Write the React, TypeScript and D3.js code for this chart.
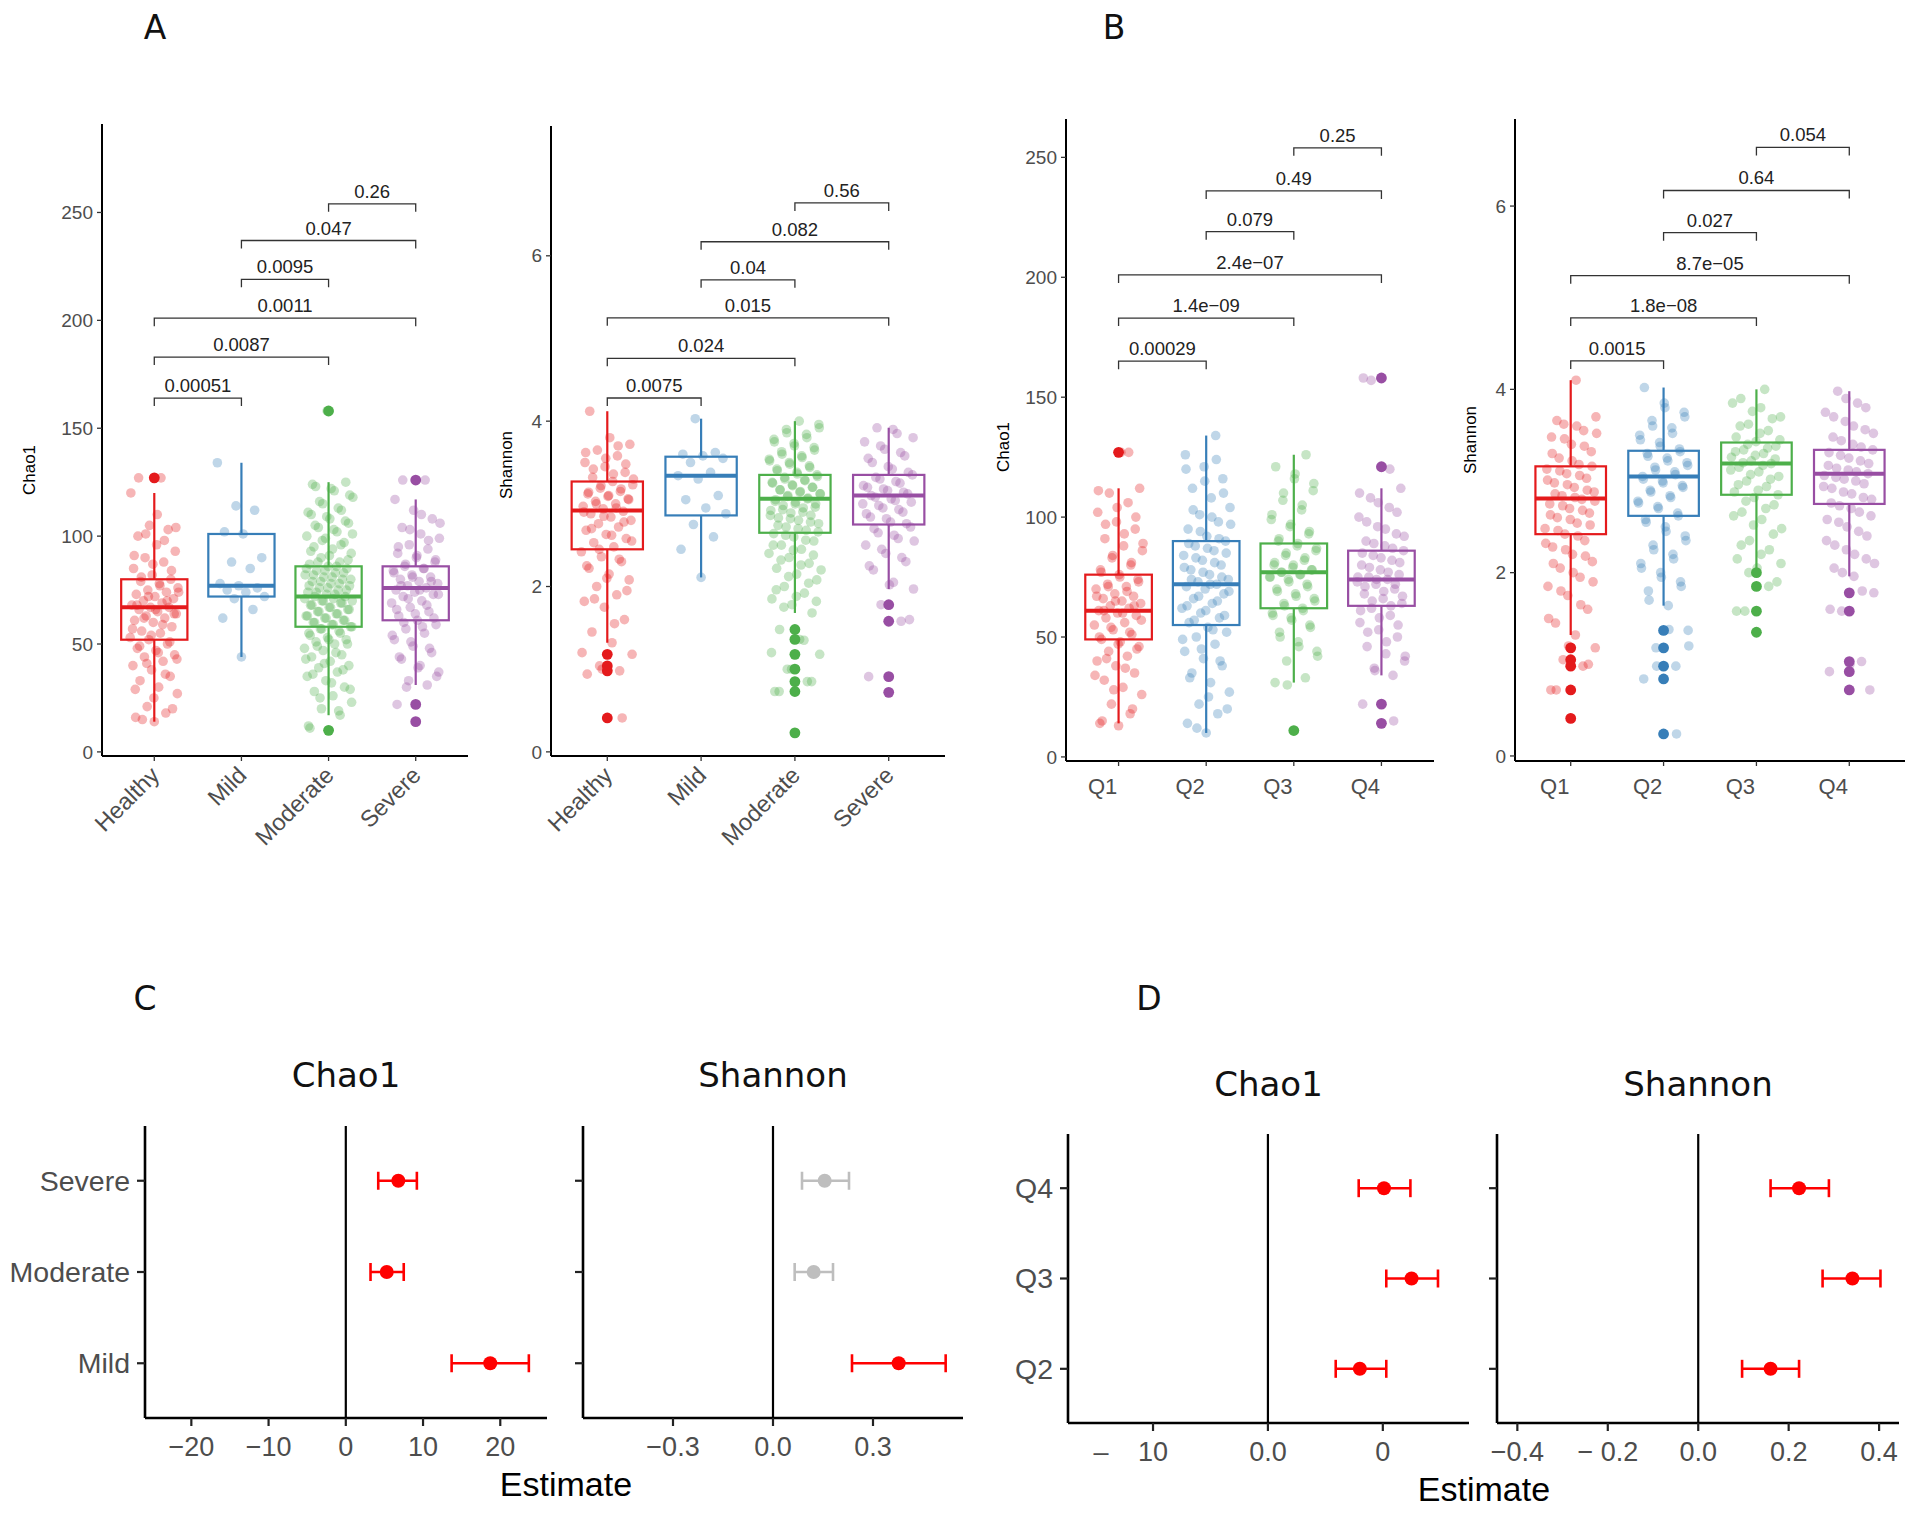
import * as d3 from 'd3';

// groups and colours
const severityGroups = ['Healthy', 'Mild', 'Moderate', 'Severe'];
const quartileGroups = ['Q1', 'Q2', 'Q3', 'Q4'];
const groupColors = ['#E41A1C', '#377EB8', '#4DAF4A', '#984EA3'];
const bracketPairs = [[0, 1], [0, 2], [0, 3], [1, 2], [1, 3], [2, 3]];

// ---- panel A : Chao1 by severity ----
const chaoHealthy = [14, 16, 18, 21, 27, 30, 33, 35, 38, 40, 42, 44, 45, 47, 48, 50, 52, 53, 55, 56, 58, 60, 61, 62, 63, 64, 65, 66, 67, 67, 68, 69, 70, 71, 72, 73, 74, 75, 76, 78, 79, 80, 82, 85, 88, 90, 93, 96, 100, 103, 105, 120, 127,
  15, 20, 25, 29, 36, 41, 43, 46, 49, 51, 54, 57, 59, 62, 64, 66, 68, 70, 72, 74, 77, 81, 84, 87, 91, 98, 101, 104, 110, 127];
const chaoMild = [44, 62, 66, 71, 72, 74, 75, 76, 77, 78, 85, 88, 90, 101, 102, 112, 114, 134];
const chaoModerate = [10, 11, 17, 20, 23, 26, 28, 30, 33, 35, 37, 39, 40, 42, 44, 45, 47, 48, 50, 51, 52, 53, 55, 56, 57, 58, 59, 60, 61, 62, 63, 64, 65, 66, 67, 68, 69, 70, 70, 71, 72, 72, 73, 74, 75, 76, 77, 78, 79, 80, 81, 82, 83, 84, 85, 86, 87, 88, 90, 92, 94, 95, 97, 99, 100, 102, 104, 106, 108, 110, 112, 115, 118, 121, 123, 125, 158,
  12, 19, 25, 29, 32, 36, 38, 41, 43, 46, 49, 50, 52, 54, 55, 57, 58, 59, 60, 61, 62, 63, 64, 65, 66, 67, 68, 69, 70, 71, 73, 74, 75, 76, 77, 78, 79, 80, 81, 82, 83, 84, 85, 86, 88, 89, 91, 93, 96, 98, 101, 103, 105, 107, 109, 111, 113, 116, 119, 122, 124];
const chaoSevere = [14, 22, 31, 33, 37, 40, 43, 46, 49, 52, 55, 57, 59, 61, 63, 65, 67, 69, 70, 72, 73, 74, 75, 76, 77, 78, 79, 80, 81, 82, 84, 85, 86, 88, 90, 92, 94, 96, 99, 101, 104, 108, 112, 117, 126,
  30, 35, 39, 44, 48, 51, 54, 58, 60, 62, 64, 66, 68, 71, 73, 75, 77, 79, 81, 83, 85, 87, 89, 91, 95, 98, 103, 106, 110, 126];
// [lower whisker, q1, median, q3, upper whisker]
const chaoSevBox = [[14, 52, 67, 80, 120], [44, 72, 77, 101, 134], [17, 58, 72, 86, 125], [31, 61, 76, 86, 117]];
const chaoSevOutliers = [[127], [], [158, 10], [126, 22, 14]];
const chaoSevP = ['0.00051', '0.0087', '0.0011', '0.0095', '0.047', '0.26'];
const chaoSevBracketY = [164, 183, 201, 219, 237, 254];

// ---- panel A : Shannon by severity ----
const shanHealthy = [0.41, 0.94, 0.98, 1.04, 1.18, 1.32, 1.45, 1.6, 1.75, 1.82, 1.9, 2.0, 2.08, 2.15, 2.22, 2.3, 2.36, 2.42, 2.48, 2.53, 2.58, 2.63, 2.68, 2.72, 2.76, 2.8, 2.84, 2.88, 2.91, 2.94, 2.97, 3.0, 3.03, 3.06, 3.09, 3.12, 3.15, 3.19, 3.23, 3.27, 3.32, 3.38, 3.45, 3.5, 3.58, 3.65, 3.72, 3.8, 4.12,
  0.41, 1.0, 1.2, 1.55, 1.85, 1.95, 2.1, 2.25, 2.33, 2.45, 2.55, 2.62, 2.7, 2.78, 2.85, 2.9, 2.95, 3.0, 3.05, 3.1, 3.14, 3.18, 3.22, 3.3, 3.36, 3.42, 3.48, 3.55, 3.62, 3.7];
const shanMild = [2.11, 2.45, 2.6, 2.75, 2.88, 2.95, 3.05, 3.1, 3.3, 3.34, 3.38, 3.5, 3.55, 3.58, 3.6, 3.62, 4.03];
const shanModerate = [0.23, 0.73, 0.85, 1.0, 1.18, 1.36, 1.48, 1.68, 1.78, 1.85, 1.92, 2.0, 2.08, 2.15, 2.22, 2.28, 2.35, 2.4, 2.45, 2.5, 2.55, 2.6, 2.64, 2.68, 2.72, 2.76, 2.8, 2.83, 2.86, 2.89, 2.92, 2.95, 2.98, 3.0, 3.02, 3.05, 3.07, 3.1, 3.12, 3.15, 3.17, 3.2, 3.22, 3.25, 3.28, 3.3, 3.33, 3.36, 3.4, 3.44, 3.48, 3.52, 3.56, 3.6, 3.65, 3.7, 3.75, 3.8, 3.86, 3.92, 4.0,
  0.73, 0.85, 1.0, 1.2, 1.35, 1.75, 1.82, 1.88, 1.96, 2.04, 2.12, 2.2, 2.26, 2.32, 2.38, 2.44, 2.5, 2.56, 2.62, 2.66, 2.7, 2.74, 2.78, 2.82, 2.86, 2.9, 2.93, 2.96, 3.0, 3.03, 3.06, 3.09, 3.12, 3.14, 3.17, 3.2, 3.23, 3.26, 3.29, 3.32, 3.35, 3.38, 3.42, 3.46, 3.5, 3.54, 3.58, 3.63, 3.68, 3.73, 3.78, 3.84, 3.9, 3.96];
const shanSevere = [0.72, 0.91, 1.58, 1.78, 1.97, 2.05, 2.2, 2.3, 2.4, 2.5, 2.58, 2.65, 2.72, 2.78, 2.84, 2.9, 2.95, 3.0, 3.04, 3.08, 3.12, 3.16, 3.2, 3.25, 3.3, 3.35, 3.42, 3.5, 3.58, 3.66, 3.75, 3.85, 3.92,
  1.6, 2.02, 2.25, 2.35, 2.45, 2.55, 2.62, 2.7, 2.76, 2.82, 2.88, 2.93, 2.98, 3.02, 3.06, 3.1, 3.14, 3.18, 3.22, 3.27, 3.32, 3.38, 3.45, 3.55, 3.62, 3.7, 3.8, 3.9];
const shanSevBox = [[1.32, 2.45, 2.92, 3.27, 4.12], [2.11, 2.86, 3.34, 3.57, 4.03], [1.68, 2.65, 3.06, 3.35, 4.0], [1.97, 2.75, 3.1, 3.35, 3.92]];
const shanSevOutliers = [[1.18, 1.04, 0.98, 0.41], [], [1.48, 1.36, 1.18, 1.0, 0.85, 0.73, 0.23], [1.78, 1.58, 0.91, 0.72]];
const shanSevP = ['0.0075', '0.024', '0.015', '0.04', '0.082', '0.56'];
const shanSevBracketY = [4.28, 4.76, 5.25, 5.71, 6.17, 6.64];

// ---- panel B : Chao1 by quartile ----
const chaoQ1 = [13, 14, 18, 22, 26, 29, 32, 35, 38, 40, 42, 44, 46, 48, 49, 51, 53, 55, 56, 58, 59, 60, 61, 62, 63, 64, 65, 66, 67, 68, 70, 71, 72, 74, 76, 78, 80, 83, 86, 88, 91, 95, 98, 102, 106, 110, 112, 127,
  15, 20, 28, 34, 37, 41, 45, 47, 50, 52, 54, 57, 60, 61, 63, 65, 67, 69, 71, 73, 75, 77, 81, 84, 89, 93, 97, 100, 104, 111, 127];
const chaoQ2 = [10, 14, 18, 22, 27, 31, 35, 38, 41, 44, 47, 50, 52, 54, 56, 58, 60, 62, 64, 66, 68, 70, 71, 72, 73, 74, 76, 78, 80, 82, 84, 86, 88, 90, 92, 95, 98, 101, 104, 108, 112, 116, 121, 126, 134,
  12, 20, 25, 33, 40, 45, 49, 53, 57, 59, 61, 63, 65, 67, 69, 72, 74, 75, 77, 79, 81, 83, 85, 87, 89, 91, 94, 97, 100, 103, 110, 115, 120, 124];
const chaoQ3 = [11, 31, 33, 40, 44, 48, 52, 55, 58, 60, 62, 64, 66, 68, 70, 72, 74, 75, 76, 77, 78, 79, 80, 82, 84, 86, 88, 90, 93, 96, 99, 103, 107, 111, 116, 121, 126,
  30, 42, 46, 50, 54, 57, 59, 61, 63, 65, 67, 69, 71, 73, 75, 76, 77, 78, 80, 81, 83, 85, 87, 89, 91, 94, 97, 101, 105, 110, 114, 118];
const chaoQ4 = [14, 22, 34, 37, 40, 43, 46, 50, 53, 56, 59, 62, 64, 66, 68, 70, 72, 73, 74, 75, 76, 78, 80, 82, 84, 86, 88, 90, 93, 96, 100, 104, 108, 112, 121, 158,
  15, 36, 42, 48, 52, 55, 58, 61, 63, 65, 67, 69, 71, 72, 74, 75, 77, 79, 81, 83, 85, 87, 89, 92, 95, 98, 102, 106, 110, 120, 157];
const chaoQBox = [[14, 49, 61, 76, 112], [10, 55, 72, 90, 134], [31, 62, 77, 89, 126], [34, 63, 74, 86, 112]];
const chaoQOutliers = [[127], [], [11], [158, 121, 22, 14]];
const chaoQP = ['0.00029', '1.4e\u221209', '2.4e\u221207', '0.079', '0.49', '0.25'];
const chaoQBracketY = [165, 183, 201, 219, 236, 254];

// ---- panel B : Shannon by quartile ----
const shanQ1 = [0.41, 0.72, 0.98, 1.05, 1.18, 1.32, 1.45, 1.6, 1.75, 1.85, 1.95, 2.05, 2.12, 2.2, 2.28, 2.35, 2.42, 2.48, 2.54, 2.6, 2.65, 2.7, 2.75, 2.8, 2.84, 2.88, 2.93, 2.98, 3.03, 3.08, 3.13, 3.18, 3.25, 3.32, 3.4, 3.48, 3.55, 3.62, 3.7, 4.1,
  0.72, 1.0, 1.2, 1.5, 1.65, 1.8, 1.9, 2.0, 2.1, 2.18, 2.25, 2.32, 2.4, 2.46, 2.52, 2.58, 2.63, 2.68, 2.73, 2.78, 2.82, 2.86, 2.9, 2.96, 3.01, 3.06, 3.11, 3.16, 3.22, 3.3, 3.38, 3.46, 3.52, 3.6, 3.66];
const shanQ2 = [0.24, 0.84, 0.98, 1.18, 1.37, 1.64, 1.8, 1.9, 2.0, 2.1, 2.2, 2.3, 2.4, 2.5, 2.58, 2.65, 2.72, 2.78, 2.84, 2.9, 2.95, 3.0, 3.05, 3.1, 3.15, 3.2, 3.25, 3.3, 3.35, 3.42, 3.5, 3.58, 3.66, 3.75, 3.85, 4.02,
  0.24, 0.98, 1.2, 1.38, 1.7, 1.85, 1.95, 2.05, 2.15, 2.25, 2.35, 2.45, 2.55, 2.62, 2.7, 2.76, 2.82, 2.88, 2.93, 2.98, 3.02, 3.07, 3.12, 3.17, 3.22, 3.27, 3.32, 3.38, 3.45, 3.52, 3.6, 3.7, 3.8];
const shanQ3 = [1.35, 1.58, 1.85, 2.0, 2.1, 2.2, 2.3, 2.42, 2.52, 2.62, 2.7, 2.78, 2.85, 2.9, 2.96, 3.02, 3.07, 3.12, 3.17, 3.2, 3.24, 3.28, 3.32, 3.36, 3.4, 3.45, 3.52, 3.6, 3.68, 3.76, 3.85, 4.0,
  1.58, 1.9, 2.05, 2.15, 2.25, 2.35, 2.48, 2.58, 2.66, 2.74, 2.82, 2.88, 2.94, 3.0, 3.05, 3.1, 3.15, 3.19, 3.22, 3.26, 3.3, 3.34, 3.38, 3.43, 3.48, 3.55, 3.62, 3.7, 3.8, 3.9];
const shanQ4 = [0.72, 0.92, 1.03, 1.58, 1.78, 1.96, 2.05, 2.15, 2.25, 2.35, 2.45, 2.55, 2.62, 2.7, 2.76, 2.82, 2.88, 2.94, 3.0, 3.04, 3.08, 3.12, 3.17, 3.22, 3.28, 3.34, 3.4, 3.48, 3.56, 3.65, 3.75, 3.85, 3.98,
  0.72, 1.0, 1.6, 1.8, 2.0, 2.1, 2.2, 2.3, 2.4, 2.5, 2.58, 2.66, 2.73, 2.8, 2.86, 2.92, 2.97, 3.02, 3.06, 3.1, 3.14, 3.19, 3.25, 3.31, 3.37, 3.44, 3.52, 3.6, 3.7, 3.8, 3.9];
const shanQBox = [[1.32, 2.42, 2.81, 3.16, 4.1], [1.64, 2.62, 3.05, 3.33, 4.02], [2.04, 2.85, 3.19, 3.42, 4.0], [1.96, 2.75, 3.08, 3.34, 3.98]];
const shanQOutliers = [[1.18, 1.05, 0.98, 0.72, 0.41], [1.37, 1.18, 0.98, 0.84, 0.24], [2.0, 1.85, 1.58, 1.35], [1.78, 1.58, 1.03, 0.92, 0.72]];
const shanQP = ['0.0015', '1.8e\u221208', '8.7e\u221205', '0.027', '0.64', '0.054'];
const shanQBracketY = [4.31, 4.78, 5.24, 5.71, 6.17, 6.64];

const chaoTicks = [0, 50, 100, 150, 200, 250];
const shanTicks = [0, 2, 4, 6];

// ---- panels C / D : regression estimates ----
const severityTerms = ['Mild', 'Moderate', 'Severe'];
const quartileTerms = ['Q2', 'Q3', 'Q4'];

const chaoSevEst = [18.7, 5.3, 6.8];
const chaoSevLo = [13.7, 3.2, 4.2];
const chaoSevHi = [23.7, 7.5, 9.2];
const chaoSevSig = [true, true, true];

const shanSevEst = [0.377, 0.122, 0.155];
const shanSevLo = [0.237, 0.065, 0.087];
const shanSevHi = [0.518, 0.18, 0.228];
const shanSevSig = [true, false, false];

const chaoQEst = [8.0, 12.5, 10.1];
const chaoQLo = [5.9, 10.3, 7.9];
const chaoQHi = [10.3, 14.8, 12.4];
const chaoQSig = [true, true, true];

const shanQEst = [0.16, 0.341, 0.223];
const shanQLo = [0.097, 0.275, 0.16];
const shanQHi = [0.223, 0.403, 0.289];
const shanQSig = [true, true, true];

const cChaoTicks = [-20, -10, 0, 10, 20];
const cChaoLabels = ['\u221220', '\u221210', '0', '10', '20'];
const cShanTicks = [-0.3, 0, 0.3];
const cShanLabels = ['\u22120.3', '0.0', '0.3'];
const dChaoTicks = [-10, 0, 10];
const dChaoLabels = ['\u2013 10', '0.0', '0'];
const dShanTicks = [-0.4, -0.2, 0, 0.2, 0.4];
const dShanLabels = ['\u22120.4', '\u2212 0.2', '0.0', '0.2', '0.4'];

const SANS = '"Liberation Sans", Arial, sans-serif';
const DEJAVU = '"DejaVu Sans", Verdana, sans-serif';
const TICK_GREY = '#4D4D4D';

// spread points sideways, like geom_jitter (deterministic)
const jitter = (i: number) => ((i * 0.6180339887 + 0.5) % 1) * 2 - 1;

function BoxPanel({ cats, frame, yDomain, yTicks, points, box, outliers, bracketY, pLabels, yTitle, yTitlePos, slanted }: any) {
  const { left, right, top, bottom } = frame;
  const x = d3.scalePoint<string>().domain(cats).range([left, right]).padding(0.6);
  const y = d3.scaleLinear().domain(yDomain).range([bottom, top]);
  const step = x.step();
  const half = step * 0.38;

  return (
    <g>
      {points.map((vals: number[], gi: number) =>
        vals.map((v, i) => (
          <circle key={`p${gi}-${i}`} cx={x(cats[gi])! + jitter(i) * step * 0.28} cy={y(v)} r={4.8}
            fill={groupColors[gi]} fillOpacity={0.32} />
        ))
      )}

      {box.map(([lo, q1, med, q3, hi]: number[], gi: number) => {
        const cx = x(cats[gi])!;
        return (
          <g key={`b${gi}`} stroke={groupColors[gi]} fill="none">
            <line x1={cx} x2={cx} y1={y(hi)} y2={y(q3)} strokeWidth={2.2} />
            <line x1={cx} x2={cx} y1={y(q1)} y2={y(lo)} strokeWidth={2.2} />
            <rect x={cx - half} y={y(q3)} width={half * 2} height={y(q1) - y(q3)} strokeWidth={2.2} />
            <line x1={cx - half} x2={cx + half} y1={y(med)} y2={y(med)} strokeWidth={4} />
          </g>
        );
      })}

      {outliers.map((vals: number[], gi: number) =>
        vals.map((v, i) => (
          <circle key={`o${gi}-${i}`} cx={x(cats[gi])!} cy={y(v)} r={5.4} fill={groupColors[gi]} />
        ))
      )}

      {bracketPairs.map(([a, b], k) => {
        const x1 = x(cats[a])!;
        const x2 = x(cats[b])!;
        const yy = y(bracketY[k]);
        return (
          <g key={`br${k}`}>
            <path d={`M${x1},${yy + 8}V${yy}H${x2}V${yy + 8}`} fill="none" stroke="#333" strokeWidth={1.3} />
            <text x={(x1 + x2) / 2} y={yy - 6} textAnchor="middle" fontSize={18.5} fontFamily={SANS} fill="#222">
              {pLabels[k]}
            </text>
          </g>
        );
      })}

      <line x1={left} x2={left} y1={top} y2={bottom} stroke="#000" strokeWidth={2} />
      <line x1={left} x2={right} y1={bottom} y2={bottom} stroke="#000" strokeWidth={2} />
      {yTicks.map((t: number) => (
        <g key={`yt${t}`}>
          <line x1={left - 5} x2={left} y1={y(t)} y2={y(t)} stroke="#333" strokeWidth={1.3} />
          <text x={left - 9} y={y(t)} dy="0.35em" textAnchor="end" fontSize={19} fontFamily={SANS} fill={TICK_GREY}>
            {t}
          </text>
        </g>
      ))}
      {cats.map((c: string) => (
        <g key={`xt${c}`}>
          <line x1={x(c)} x2={x(c)} y1={bottom} y2={bottom + 5} stroke="#333" strokeWidth={1.3} />
          {slanted ? (
            <text transform={`translate(${x(c)! - 5},${bottom + 9}) rotate(-45)`} dy="0.7em" textAnchor="end"
              fontSize={23.5} fontFamily={SANS} fill={TICK_GREY}>{c}</text>
          ) : (
            <text x={x(c)! - 16} y={bottom + 33} textAnchor="middle" fontSize={22} fontFamily={SANS} fill={TICK_GREY}>{c}</text>
          )}
        </g>
      ))}
      <text transform={`translate(${yTitlePos[0]},${yTitlePos[1]}) rotate(-90)`} dy="0.35em" textAnchor="middle"
        fontSize={17} fontFamily={SANS} fill="#000">{yTitle}</text>
    </g>
  );
}

function ForestPanel({ frame, domain, ticks, tickLabels, terms, est, lo, hi, sig, showTerms, title, titleY }: any) {
  const { left, right, top, bottom } = frame;
  const x = d3.scaleLinear().domain(domain).range([left, right]);
  const y = d3.scalePoint<string>().domain(terms).range([bottom, top]).padding(0.6);
  const cap = 9;

  return (
    <g>
      <text x={(left + right) / 2} y={titleY} textAnchor="middle" fontSize={34} fontFamily={DEJAVU} fill="#111">{title}</text>
      <line x1={x(0)} x2={x(0)} y1={top} y2={bottom} stroke="#000" strokeWidth={2.2} />
      {terms.map((t: string, i: number) => {
        const c = sig[i] ? '#FF0000' : '#BEBEBE';
        const yy = y(t)!;
        return (
          <g key={t} stroke={c} strokeWidth={2.6}>
            <line x1={x(lo[i])} x2={x(hi[i])} y1={yy} y2={yy} />
            <line x1={x(lo[i])} x2={x(lo[i])} y1={yy - cap} y2={yy + cap} />
            <line x1={x(hi[i])} x2={x(hi[i])} y1={yy - cap} y2={yy + cap} />
            <circle cx={x(est[i])} cy={yy} r={7} fill={c} stroke="none" />
          </g>
        );
      })}
      <line x1={left} x2={left} y1={top} y2={bottom} stroke="#000" strokeWidth={2.6} />
      <line x1={left} x2={right} y1={bottom} y2={bottom} stroke="#000" strokeWidth={2.6} />
      {terms.map((t: string) => (
        <g key={`yt${t}`}>
          <line x1={left - 8} x2={left} y1={y(t)} y2={y(t)} stroke="#222" strokeWidth={2.2} />
          {showTerms && (
            <text x={left - 15} y={y(t)} dy="0.35em" textAnchor="end" fontSize={28.5} fontFamily={SANS} fill={TICK_GREY}>{t}</text>
          )}
        </g>
      ))}
      {ticks.map((v: number, i: number) => {
        const parts = tickLabels[i].startsWith('\u2013 ') ? tickLabels[i].split(' ') : null;
        return (
          <g key={`xt${v}`}>
            <line x1={x(v)} x2={x(v)} y1={bottom} y2={bottom + 8} stroke="#222" strokeWidth={2.2} />
            {parts ? (
              <g fontSize={27} fontFamily={SANS} fill={TICK_GREY} textAnchor="middle">
                <text x={x(v) - 52} y={bottom + 38}>{parts[0]}</text>
                <text x={x(v)} y={bottom + 38}>{parts[1]}</text>
              </g>
            ) : (
              <text x={x(v)} y={bottom + 38} textAnchor="middle" fontSize={27} fontFamily={SANS} fill={TICK_GREY}>
                {tickLabels[i]}
              </text>
            )}
          </g>
        );
      })}
    </g>
  );
}

export default function App() {
  return (
    <svg width={1920} height={1514} viewBox="0 0 1920 1514"
      style={{ position: 'absolute', left: 0, top: 0, display: 'block', background: '#fff' }}>
      <rect width={1920} height={1514} fill="#fff" />

      {/* panel letters */}
      <g fontFamily={DEJAVU} fontSize={33} fill="#111" textAnchor="middle">
        <text x={155} y={39}>A</text>
        <text x={1114} y={39}>B</text>
        <text x={145} y={1010}>C</text>
        <text x={1149} y={1010}>D</text>
      </g>

      <BoxPanel cats={severityGroups} frame={{ left: 102, right: 468, top: 124, bottom: 756 }} yDomain={[-1.9, 291]}
        yTicks={chaoTicks} points={[chaoHealthy, chaoMild, chaoModerate, chaoSevere]} box={chaoSevBox}
        outliers={chaoSevOutliers} bracketY={chaoSevBracketY} pLabels={chaoSevP} yTitle="Chao1" yTitlePos={[29, 470]} slanted />
      <BoxPanel cats={severityGroups} frame={{ left: 551, right: 945, top: 126, bottom: 756 }} yDomain={[-0.05, 7.57]}
        yTicks={shanTicks} points={[shanHealthy, shanMild, shanModerate, shanSevere]} box={shanSevBox}
        outliers={shanSevOutliers} bracketY={shanSevBracketY} pLabels={shanSevP} yTitle="Shannon" yTitlePos={[506, 465]} slanted />
      <BoxPanel cats={quartileGroups} frame={{ left: 1066, right: 1434, top: 119, bottom: 761 }} yDomain={[-1.7, 266]}
        yTicks={chaoTicks} points={[chaoQ1, chaoQ2, chaoQ3, chaoQ4]} box={chaoQBox}
        outliers={chaoQOutliers} bracketY={chaoQBracketY} pLabels={chaoQP} yTitle="Chao1" yTitlePos={[1003, 447]} />
      <BoxPanel cats={quartileGroups} frame={{ left: 1515, right: 1905, top: 119, bottom: 761 }} yDomain={[-0.055, 6.95]}
        yTicks={shanTicks} points={[shanQ1, shanQ2, shanQ3, shanQ4]} box={shanQBox}
        outliers={shanQOutliers} bracketY={shanQBracketY} pLabels={shanQP} yTitle="Shannon" yTitlePos={[1470, 440]} />

      <ForestPanel frame={{ left: 145, right: 547, top: 1126, bottom: 1418 }} domain={[-26, 26.05]} ticks={cChaoTicks}
        tickLabels={cChaoLabels} terms={severityTerms} est={chaoSevEst} lo={chaoSevLo} hi={chaoSevHi} sig={chaoSevSig}
        showTerms title="Chao1" titleY={1087} />
      <ForestPanel frame={{ left: 583, right: 963, top: 1126, bottom: 1418 }} domain={[-0.57, 0.57]} ticks={cShanTicks}
        tickLabels={cShanLabels} terms={severityTerms} est={shanSevEst} lo={shanSevLo} hi={shanSevHi} sig={shanSevSig}
        title="Shannon" titleY={1087} />
      <ForestPanel frame={{ left: 1068, right: 1469, top: 1134, bottom: 1423 }} domain={[-17.4, 17.5]} ticks={dChaoTicks}
        tickLabels={dChaoLabels} terms={quartileTerms} est={chaoQEst} lo={chaoQLo} hi={chaoQHi} sig={chaoQSig}
        showTerms title="Chao1" titleY={1096} />
      <ForestPanel frame={{ left: 1497, right: 1899, top: 1134, bottom: 1423 }} domain={[-0.445, 0.444]} ticks={dShanTicks}
        tickLabels={dShanLabels} terms={quartileTerms} est={shanQEst} lo={shanQLo} hi={shanQHi} sig={shanQSig}
        title="Shannon" titleY={1096} />

      <g fontFamily={SANS} fontSize={34} fill="#000" textAnchor="middle">
        <text x={566} y={1496}>Estimate</text>
        <text x={1484} y={1501}>Estimate</text>
      </g>
    </svg>
  );
}
